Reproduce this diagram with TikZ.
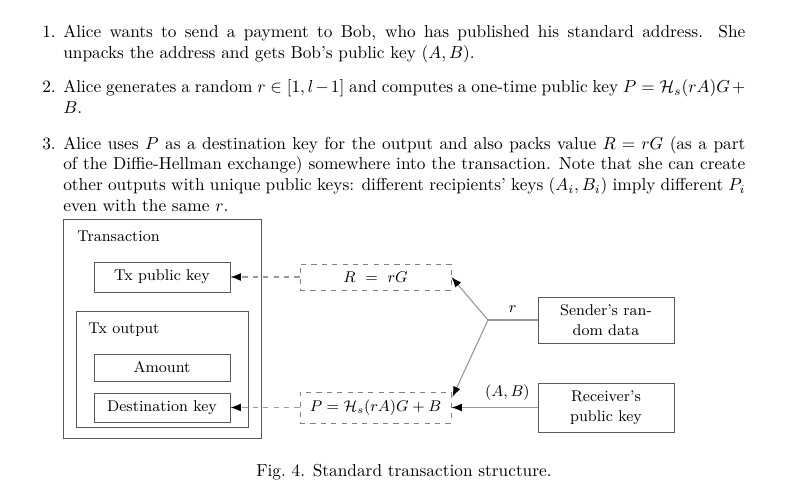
\documentclass[tikz,border=0pt]{standalone}
\usetikzlibrary{arrows.meta,calc}
\newlength\pxu
\setlength\pxu{0.578pt}
\tikzset{
  box/.style={draw=black!65, line width=0.5pt, fill=white, inner sep=0pt,
    font=\fontsize{9}{11.5}\selectfont, align=center},
  dbox/.style={draw=black!50, dashed, line width=0.5pt, inner sep=0pt,
    font=\fontsize{9}{11.5}\selectfont},
  conn/.style={draw=black!40, line width=0.65pt},
  dconn/.style={draw=black!40, dashed, line width=0.65pt},
  tip/.style={-{Latex[length=6pt,width=4.5pt,color=black]}},
  itemtext/.style={anchor=base west, inner sep=0pt, text width=682\pxu,
    align=justify, font=\normalsize},
  itemnum/.style={anchor=base west, inner sep=0pt, font=\normalsize},
  lbl/.style={font=\fontsize{9}{11.5}\selectfont, inner sep=0pt},
  boxtitle/.style={anchor=base west, inner sep=0pt, font=\fontsize{9}{11.5}\selectfont}
}
\begin{document}
\begin{tikzpicture}[x=\pxu,y=-\pxu]
\useasboundingbox (0,0) rectangle (787,493);
% --- text items ---
\node[itemnum] (n1) at (42,38) {1.};
\node[itemtext] (t1) at (63,38) {Alice wants to send a payment to Bob, who has published his standard address. She\linebreak unpacks the address and gets Bob's public key $(A, B)$.};
\node[itemnum] (n2) at (42,93) {2.};
\node[itemtext] (t2) at (63,93) {Alice generates a random $r \in [1, l-1]$ and computes a one-time public key $P = \mathcal{H}_s(rA)G+\linebreak B$.};
\node[itemnum] (n3) at (42,149) {3.};
\node[itemtext] (t3) at (63,149) {Alice uses $P$ as a destination key for the output and also packs value $R = rG$ (as a part\linebreak of the Diffie-Hellman exchange) somewhere into the transaction. Note that she can create\linebreak other outputs with unique public keys: different recipients' keys $(A_i, B_i)$ imply different $P_i$\linebreak even with the same $r$.};
% --- transaction structure ---
\node[box, minimum width=198\pxu, minimum height=219\pxu] (tx) at (162,328.5) {};
\node[boxtitle] (txlbl) at (77,241) {Transaction};
\node[box, minimum width=136\pxu, minimum height=30\pxu] (txpk) at (162,277) {Tx public key};
\node[box, minimum width=172\pxu, minimum height=116\pxu] (txout) at (162,369) {};
\node[boxtitle] (txoutlbl) at (88,333) {Tx output};
\node[box, minimum width=136\pxu, minimum height=27\pxu] (amount) at (162,367.5) {Amount};
\node[box, minimum width=136\pxu, minimum height=29\pxu] (dest) at (162,407.5) {Destination key};
% --- derived values ---
\node[dbox, minimum width=151\pxu, minimum height=26\pxu] (R) at (375.5,277) {$R\ =\ rG$};
\node[dbox, minimum width=151\pxu, minimum height=31\pxu] (P) at (375.5,407.5) {$P = \mathcal{H}_s(rA)G + B$};
% --- sources ---
\node[box, minimum width=136\pxu, minimum height=46\pxu] (sender) at (606,320) {Sender's ran-\\dom data};
\node[box, minimum width=136\pxu, minimum height=49\pxu] (receiver) at (606,407.5) {Receiver's\\public key};
\coordinate (j) at (488,320);
% --- connectors ---
\draw[conn] (sender.west) -- node[lbl, above=4pt] {$r$} (j);
\draw[conn, tip] (j) -- (R.east);
\draw[conn, tip] (j) -- ($(P.east)+(1,-10.5)$);
\draw[conn, tip] (receiver.west) -- node[lbl, pos=0.35, above=4pt] {$(A, B)$} (P.east);
\draw[dconn, tip] (R.west) -- (txpk.east);
\draw[dconn, tip] (P.west) -- (dest.east);
% --- caption ---
\node[anchor=base, inner sep=0pt, font=\normalsize] (cap) at (404,476) {Fig.~4. Standard transaction structure.};
\end{tikzpicture}
\end{document}
